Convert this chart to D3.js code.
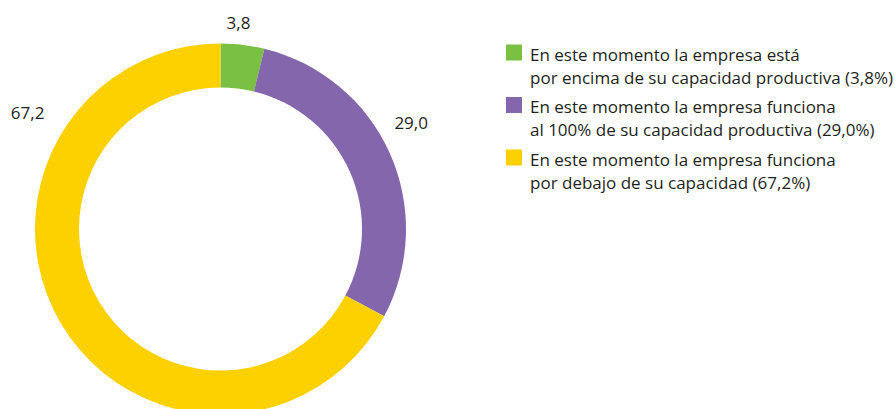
<!DOCTYPE html>
<html>
<head>
<meta charset="utf-8">
<script src="https://cdn.jsdelivr.net/npm/d3@7"></script>
<style>
  body { margin: 0; background: #fff; }
  text { font-family: "Open Sans", sans-serif; fill: #231f20; }
</style>
</head>
<body>
<svg width="895" height="409"></svg>
<script>
const svg = d3.select('svg');

const categories = ['encima', 'cien', 'debajo'];
const values = [3.8, 29.0, 67.2];
const valueLabels = ['3,8', '29,0', '67,2'];
const colors = ['#7ac143', '#8466ad', '#fdd000'];
const legendLines = [
  ['En este momento la empresa está', 'por encima de su capacidad productiva (3,8%)'],
  ['En este momento la empresa funciona', 'al 100% de su capacidad productiva (29,0%)'],
  ['En este momento la empresa funciona', 'por debajo de su capacidad (67,2%)']
];

const data = categories.map((c, i) => ({ cat: c, value: values[i], label: valueLabels[i], color: colors[i] }));

const cx = 220.5, cy = 229;
const outerR = 185.5, innerR = 141.5;

const pie = d3.pie().value(d => d.value).sort(null);
const arc = d3.arc().innerRadius(innerR).outerRadius(outerR);

const g = svg.append('g').attr('transform', `translate(${cx},${cy})`);

const arcs = pie(data);

g.selectAll('path').data(arcs)
  .enter().append('path')
    .attr('d', arc)
    .attr('fill', d => d.data.color);

// label placement: angle (deg, clockwise from top) and distance from centre
const labelPlace = [
  { angle: 5, r: 207 },
  { angle: 61, r: 218 },
  { angle: 301, r: 225 }
];
g.selectAll('text.val').data(arcs)
  .enter().append('text')
    .attr('class', 'val')
    .attr('font-size', 17)
    .attr('text-anchor', 'middle')
    .attr('x', (d, i) => Math.sin(labelPlace[i].angle * Math.PI / 180) * labelPlace[i].r)
    .attr('y', (d, i) => -Math.cos(labelPlace[i].angle * Math.PI / 180) * labelPlace[i].r)
    .attr('dy', '0.35em')
    .text(d => d.data.label);

// legend
const legend = svg.append('g').attr('transform', 'translate(506,0)');
const items = legend.selectAll('g').data(data)
  .enter().append('g')
    .attr('transform', (d, i) => `translate(0,${60.5 + i * 52.5})`);

items.append('rect')
  .attr('x', 0).attr('y', -16)
  .attr('width', 16).attr('height', 16)
  .attr('fill', d => d.color);

items.each(function(d, i) {
  const t = d3.select(this).append('text')
    .attr('x', 24).attr('font-size', 17);
  legendLines[i].forEach((line, j) => {
    t.append('tspan').attr('x', 24).attr('y', j * 23).text(line);
  });
});
</script>
</body>
</html>
